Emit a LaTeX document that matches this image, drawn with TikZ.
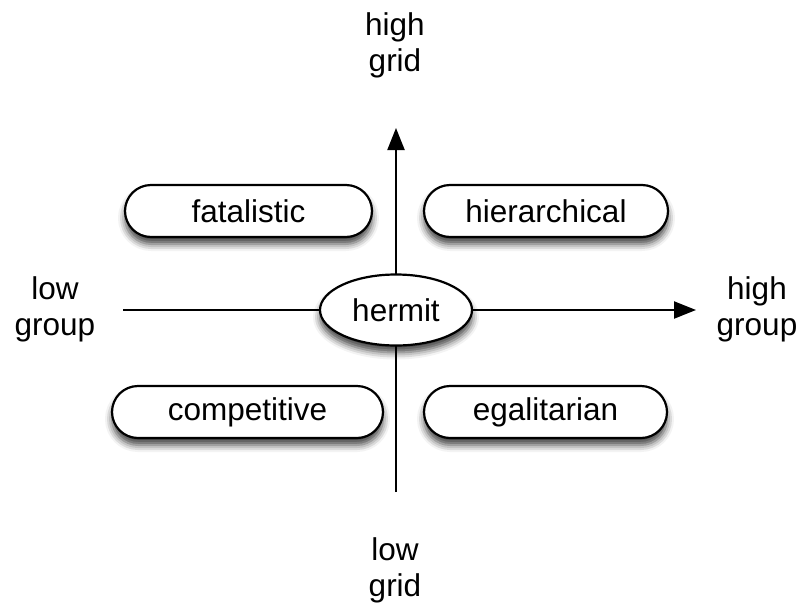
\documentclass[tikz,border=0pt]{standalone}
\usepackage{fontspec}
\setmainfont{Liberation Sans}
\usetikzlibrary{arrows.meta,shapes.geometric,shadows.blur}
\begin{document}
\begin{tikzpicture}[x=1pt,y=-1pt,
  every node/.style={font=\fontsize{31.5}{36}\selectfont},
  axis/.style={line width=2.2pt,-{Triangle[length=22pt,width=17pt]}},
  shade/.style={blur shadow={shadow xshift=0pt,shadow yshift=-7pt,shadow blur radius=7pt,shadow opacity=75}},
  pill/.style={draw,line width=2.2pt,fill=white,rounded corners=26pt,minimum height=52pt,inner sep=0pt,shade},
  hub/.style={draw,ellipse,line width=2.2pt,fill=white,minimum width=152pt,minimum height=71pt,inner sep=0pt,shade},
  label/.style={align=center,inner sep=0pt}]
\useasboundingbox (0,0) rectangle (797,608);

% axis end points
\coordinate (left) at (123,310);
\coordinate (right) at (696,310);
\coordinate (bottom) at (396,492);
\coordinate (top) at (396,128);
\coordinate (centre) at (396,310);

\draw[axis] (left) -- (right);
\draw[axis] (bottom) -- (top);

% quadrants
\node[pill,minimum width=247pt] (fat) at (248.5,211) {fatalistic};
\node[pill,minimum width=244pt] (hier) at (546,211) {hierarchical};
\node[pill,minimum width=271pt] (comp) at (247.5,412) {competitive};
\node[pill,minimum width=243pt] (egal) at (545.5,412) {egalitarian};

\node[hub] (hermit) at (centre) {hermit};

% axis labels
\node[label] (hg) at (395,45) {high\\grid};
\node[label] (lg) at (395,570) {low\\grid};
\node[label] (lgr) at (55,309) {low\\group};
\node[label] (hgr) at (757,309) {high\\group};
\end{tikzpicture}
\end{document}
